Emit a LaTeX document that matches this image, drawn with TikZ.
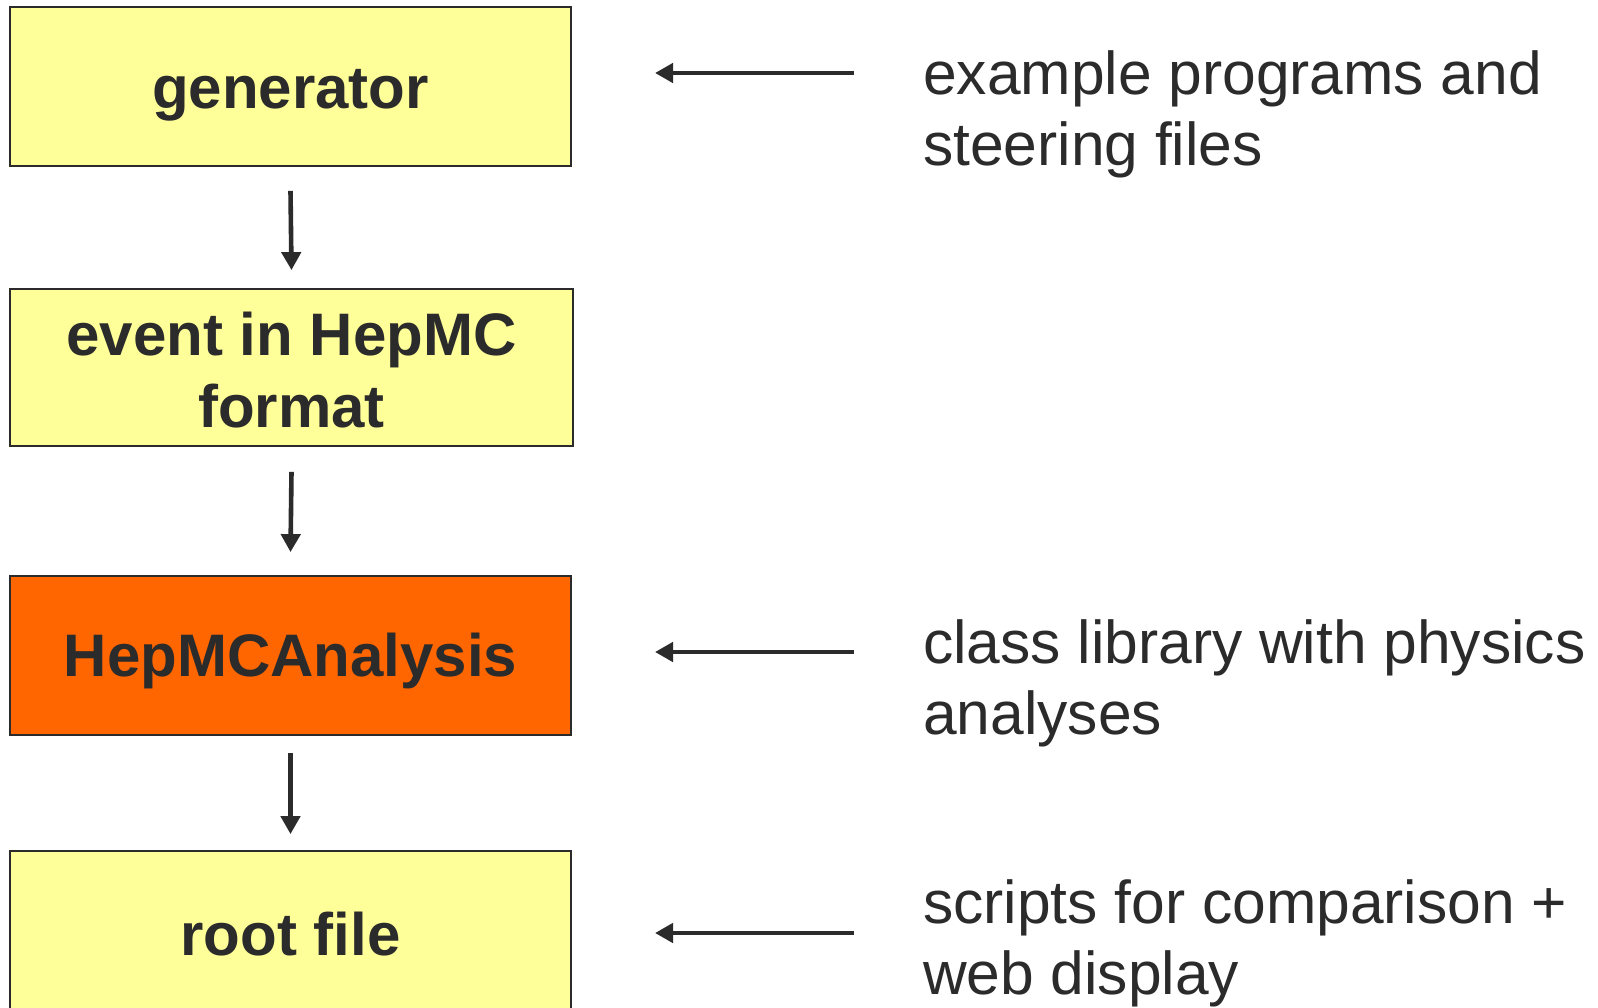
\documentclass[tikz,border=0pt]{standalone}
\usepackage{fontspec}
\setmainfont{Liberation Sans}
\usetikzlibrary{arrows.meta}
\definecolor{ink}{HTML}{2B2B2B}
\definecolor{boxyellow}{HTML}{FFFF99}
\definecolor{boxorange}{HTML}{FF6600}
\tikzset{
  stagebox/.style={draw=ink, line width=1.8pt, minimum width=561pt, minimum height=159pt, inner sep=0pt,
    align=center, text=ink, font=\fontsize{60}{72}\selectfont\bfseries},
  boxlabel/.style={inner sep=0pt, align=center, text=ink, font=\fontsize{60}{72}\selectfont\bfseries},
  note/.style={anchor=base west, inner sep=0pt, text=ink, font=\fontsize{60.5}{72}\selectfont},
  arr/.style={draw=ink, line width=4.6pt, -{Triangle[length=18pt,width=19pt]}}
}
\begin{document}
\begin{tikzpicture}[x=1pt,y=-1pt]
\useasboundingbox (0,0) rectangle (1598,1007);
\clip (0,0) rectangle (1598,1007);
\fill[white] (0,0) rectangle (1598,1007);
\node[stagebox, fill=boxyellow] (gen) at (290.5,86.5) {};
\node[boxlabel] (genl) at (290.5,95) {generator};
\node[stagebox, fill=boxyellow, minimum width=563pt, minimum height=157pt] (evt) at (291.5,367.5) {};
\node[boxlabel] (evtl) at (291.5,370) {event in HepMC\\format};
\node[stagebox, fill=boxorange] (ana) at (290.5,655.5) {};
\node[boxlabel] (anal) at (290.5,661) {HepMCAnalysis};
\node[stagebox, fill=boxyellow] (root) at (290.5,930.5) {};
\node[boxlabel] (rootl) at (290.5,934) {root file};
\draw[arr] ([yshift=-24pt]gen.south) -- ([yshift=18pt]evt.north);
\draw[arr] ([yshift=-25pt]evt.south) -- ([yshift=23pt]ana.north);
\draw[arr] ([yshift=-17pt]ana.south) -- ([yshift=16pt]root.north);
\node[note] (t1a) at (923,94) {example programs and};
\node[note] (t1b) at (923,165.5) {steering files};
\node[note] (t2a) at (923,663) {class library with physics};
\node[note] (t2b) at (923,734.5) {analyses};
\node[note] (t3a) at (923,923) {scripts for comparison +};
\node[note] (t3b) at (923,994.5) {web display};
\coordinate (a1s) at (854,73);
\coordinate (a1e) at (655,73);
\coordinate (a2s) at (854,652);
\coordinate (a2e) at (655,652);
\coordinate (a3s) at (854,933);
\coordinate (a3e) at (655,933);
\draw[arr] (a1s) -- (a1e);
\draw[arr] (a2s) -- (a2e);
\draw[arr] (a3s) -- (a3e);
\end{tikzpicture}
\end{document}
